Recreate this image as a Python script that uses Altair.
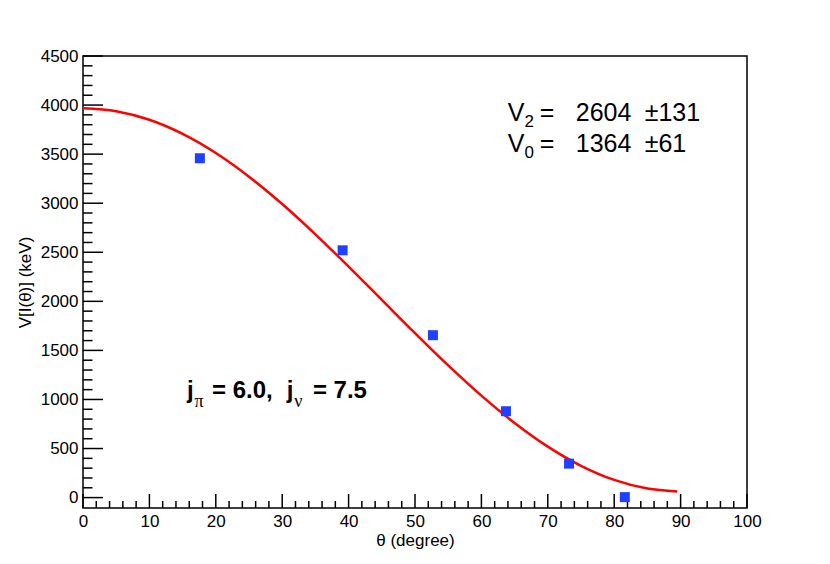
import altair as alt
import pandas as pd

# ---- data ----
theta_pts = [17.6, 39.1, 52.7, 63.7, 73.2, 81.6]
v_pts = [3458, 2520, 1655, 880, 346, 5]

theta_fit = [0, 5, 10, 15, 20, 25, 30, 35, 40, 45, 50, 55, 60, 65, 70, 75, 80, 85, 89.5]
v_fit = [3968, 3938, 3850, 3706, 3511, 3270, 2992, 2683, 2354, 2015, 1676, 1347,
         1039, 760, 519, 324, 180, 92, 62]

x_major = [0, 10, 20, 30, 40, 50, 60, 70, 80, 90, 100]
x_minor = [v for v in range(0, 101, 2) if v % 10]
y_major = [0, 500, 1000, 1500, 2000, 2500, 3000, 3500, 4000, 4500]
y_minor = [v for v in range(0, 4501, 100) if v % 500]

W, H = 664, 452
FONT = "Liberation Sans"

xscale = alt.Scale(domain=[0, 100], nice=False, zero=False)
yscale = alt.Scale(domain=[-106, 4500], nice=False, zero=False)
xaxis = alt.Axis(values=x_major, format="d", title="θ (degree)", domain=False, ticks=False,
                 tickSize=0, grid=False, labelFlush=False, labelFont=FONT, labelFontSize=17,
                 labelColor="black", labelPadding=5, titleFont=FONT, titleFontSize=17,
                 titleFontWeight="normal", titleColor="black", titleY=37,
                 titleBaseline="alphabetic")
yaxis = alt.Axis(values=y_major, format="d", title="V[I(θ)] (keV)", domain=False, ticks=False,
                 tickSize=0, grid=False, labelFlush=False, labelFont=FONT, labelFontSize=17,
                 labelColor="black", labelPadding=5, titleFont=FONT, titleFontSize=17,
                 titleFontWeight="normal", titleColor="black", titleX=-49,
                 titleBaseline="bottom")


def X(field):
    return alt.X(field, type="quantitative", scale=xscale, axis=xaxis)


def Y(field):
    return alt.Y(field, type="quantitative", scale=yscale, axis=yaxis)


ymaj = alt.Chart(pd.DataFrame({"v": y_major})).mark_rule(color="black", strokeWidth=1.5).encode(
    y=Y("v"), x=alt.value(0), x2=alt.value(20))
ymin = alt.Chart(pd.DataFrame({"v": y_minor})).mark_rule(color="black", strokeWidth=1.5).encode(
    y=Y("v"), x=alt.value(0), x2=alt.value(9.5))
xmaj = alt.Chart(pd.DataFrame({"t": x_major})).mark_rule(color="black", strokeWidth=1.5).encode(
    x=X("t"), y=alt.value(H), y2=alt.value(H - 14))
xmin = alt.Chart(pd.DataFrame({"t": x_minor})).mark_rule(color="black", strokeWidth=1.5).encode(
    x=X("t"), y=alt.value(H), y2=alt.value(H - 7))

curve = alt.Chart(pd.DataFrame({"theta": theta_fit, "V": v_fit})).mark_line(
    color="#ff0000", strokeWidth=2.5, interpolate="monotone").encode(x=X("theta"), y=Y("V"))

points = alt.Chart(pd.DataFrame({"theta": theta_pts, "V": v_pts})).mark_square(
    color="#2040ff", opacity=1, size=100).encode(x=X("theta"), y=Y("V"))

# annotation pieces: (text, theta, V, fontsize, bold, font)
annotations = [
    ("V", 63.98, 3835, 25, False, FONT),
    ("2", 66.5, 3780, 17, False, FONT),
    ("=", 68.8, 3835, 25, False, FONT),
    ("2604", 74.21, 3835, 25, False, FONT),
    ("±131", 84.60, 3835, 25, False, FONT),
    ("V", 63.98, 3519, 25, False, FONT),
    ("0", 66.5, 3464, 17, False, FONT),
    ("=", 68.8, 3519, 25, False, FONT),
    ("1364", 74.21, 3519, 25, False, FONT),
    ("±61", 84.60, 3519, 25, False, FONT),
    ("j", 15.66, 1012, 24, True, FONT),
    ("π", 16.8, 920, 18, False, "Liberation Serif"),
    ("= 6.0,", 19.42, 1012, 24, True, FONT),
    ("j", 30.7, 1012, 24, True, FONT),
    ("ν", 31.8, 920, 18, False, "Liberation Serif"),
    ("= 7.5", 34.62, 1012, 24, True, FONT),
]

texts = []
for txt, tx, ty, fs, bold, font in annotations:
    texts.append(
        alt.Chart(alt.Data(values=[{}])).mark_text(
            text=txt, align="left", baseline="alphabetic", fontSize=fs,
            fontWeight="bold" if bold else "normal", font=font, color="black").encode(
            x=alt.XDatum(tx, type="quantitative", scale=xscale, axis=xaxis),
            y=alt.YDatum(ty, type="quantitative", scale=yscale, axis=yaxis))
    )

chart = alt.layer(ymaj, ymin, xmaj, xmin, curve, points, *texts).properties(
    width=W, height=H,
    autosize=alt.AutoSizeParams(type="none"),
    padding={"left": 75, "top": 48, "right": 70, "bottom": 45},
    background="white",
).configure_view(stroke="black", strokeWidth=1.5)

chart.save("out.html", embed_options={"renderer": "svg", "actions": False})
